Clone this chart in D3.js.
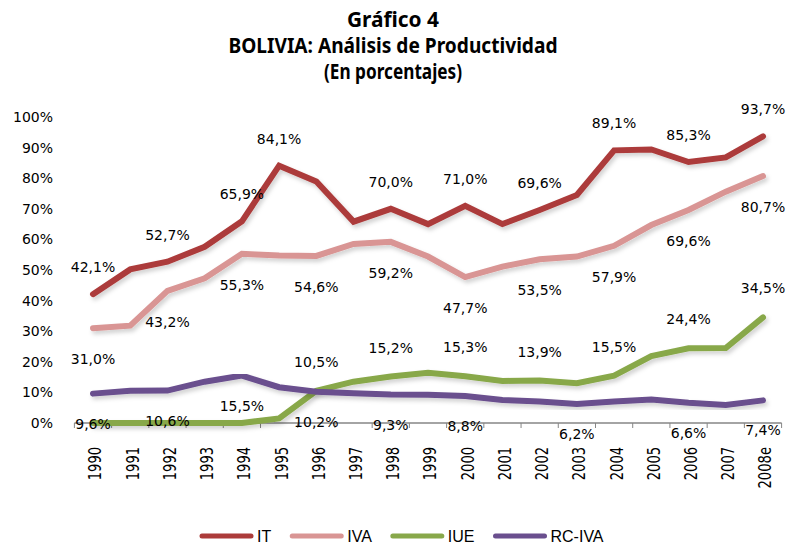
<!DOCTYPE html>
<html>
<head>
<meta charset="utf-8">
<script src="https://cdn.jsdelivr.net/npm/d3@7"></script>
<style>
  body { margin: 0; background: #fff; }
  text { fill: #000; }
</style>
</head>
<body>
<script>
// categories
var years = ['1990','1991','1992','1993','1994','1995','1996','1997','1998','1999',
             '2000','2001','2002','2003','2004','2005','2006','2007','2008e'];

// series values (%)
var it    = [42.1, 50.2, 52.7, 57.6, 65.9, 84.1, 78.9, 65.8, 70.0, 65.0, 71.0, 65.0, 69.6, 74.5, 89.1, 89.4, 85.3, 86.8, 93.7];
var iva   = [31.0, 31.8, 43.2, 47.3, 55.3, 54.7, 54.6, 58.5, 59.2, 54.4, 47.7, 51.1, 53.5, 54.4, 57.9, 64.7, 69.6, 75.6, 80.7];
var iue   = [0.0, 0.0, 0.0, 0.0, 0.0, 1.5, 10.5, 13.5, 15.2, 16.4, 15.3, 13.7, 13.9, 13.0, 15.5, 21.9, 24.4, 24.5, 34.5];
var rciva = [9.6, 10.5, 10.6, 13.5, 15.5, 11.7, 10.2, 9.7, 9.3, 9.2, 8.8, 7.5, 7.0, 6.2, 7.0, 7.7, 6.6, 5.9, 7.4];

// years that carry a data label, per series
var itLabels    = ['1990','1992','1994','1995','1998','2000','2002','2004','2006','2008e'];
var ivaLabels   = ['1990','1992','1994','1996','1998','2000','2002','2004','2006','2008e'];
var iueLabels   = ['1996','1998','2000','2002','2004','2006','2008e'];
var rcivaLabels = ['1990','1992','1994','1996','1998','2000','2003','2006','2008e'];

// y ticks
var yTicks = [0, 10, 20, 30, 40, 50, 60, 70, 80, 90, 100];

var titleLines = ['Gráfico 4', 'BOLIVIA: Análisis de Productividad', '(En porcentajes)'];

var series = [
  {name: 'IT',     values: it,    labels: itLabels,    color: '#ac3b3a', dy: -27},
  {name: 'IVA',    values: iva,   labels: ivaLabels,   color: '#d99594', dy: 31},
  {name: 'IUE',    values: iue,   labels: iueLabels,   color: '#88a84a', dy: -29},
  {name: 'RC-IVA', values: rciva, labels: rcivaLabels, color: '#6a4f8e', dy: 30}
];

var width = 787, height = 546;

var svg = d3.select("body").append("svg")
  .attr("width", width)
  .attr("height", height);

// shadow like the spreadsheet line effect
var defs = svg.append("defs");
defs.append("filter")
  .attr("id", "shadow")
  .attr("x", "-5%").attr("y", "-5%").attr("width", "110%").attr("height", "120%")
  .append("feDropShadow")
  .attr("dx", 2).attr("dy", 3)
  .attr("stdDeviation", 2)
  .attr("flood-color", "#000")
  .attr("flood-opacity", 0.18);

// scales
var x = d3.scaleBand()
  .domain(years)
  .range([74.4, 781.6])
  .padding(0);

var y = d3.scaleLinear()
  .domain([0, 100])
  .range([423, 117]);

function cx(d) { return x(d) + x.bandwidth() / 2; }

// title
svg.append("g").selectAll("text")
  .data(titleLines)
  .enter()
  .append("text")
  .attr("x", 393)
  .attr("y", function(d, i) { return 27 + i * 26; })
  .attr("text-anchor", "middle")
  .attr("textLength", function(d, i) { return [92, 329, 138][i]; })
  .attr("lengthAdjust", "spacingAndGlyphs")
  .style("font-family", "'Noto Sans', 'Open Sans', sans-serif")
  .style("font-weight", "bold")
  .style("font-size", "21px")
  .text(function(d) { return d; });

// y axis labels (no axis line)
svg.append("g").selectAll("text")
  .data(yTicks)
  .enter()
  .append("text")
  .attr("x", 53)
  .attr("y", function(d) { return y(d); })
  .attr("dy", "0.36em")
  .attr("text-anchor", "end")
  .style("font-family", "'DejaVu Sans', Verdana, sans-serif")
  .style("font-size", "14px")
  .text(function(d) { return d + "%"; });

// x axis line and ticks between categories
var xAxis = svg.append("g");
xAxis.append("line")
  .attr("x1", x.range()[0]).attr("x2", x.range()[1])
  .attr("y1", y(0)).attr("y2", y(0))
  .style("stroke", "#868686")
  .style("stroke-width", 1.5);

xAxis.selectAll(".tick")
  .data(years.concat(["end"]))
  .enter()
  .append("line")
  .attr("class", "tick")
  .attr("x1", function(d) { return d == "end" ? x.range()[1] : x(d); })
  .attr("x2", function(d) { return d == "end" ? x.range()[1] : x(d); })
  .attr("y1", y(0))
  .attr("y2", y(0) + 5)
  .style("stroke", "#868686")
  .style("stroke-width", 1);

xAxis.selectAll(".ylab")
  .data(years)
  .enter()
  .append("text")
  .attr("class", "ylab")
  .attr("transform", function(d) { return "translate(" + (cx(d) + 2) + ",447) rotate(-90)"; })
  .attr("dy", "0.36em")
  .attr("text-anchor", "end")
  .attr("textLength", function(d) { return d.length * 8.3; })
  .attr("lengthAdjust", "spacingAndGlyphs")
  .style("font-family", "'DejaVu Sans', Verdana, sans-serif")
  .style("font-size", "18px")
  .text(function(d) { return d; });

// lines
var line = d3.line()
  .x(function(d, i) { return cx(years[i]); })
  .y(function(d) { return y(d); });

svg.append("g").selectAll("path")
  .data(series)
  .enter()
  .append("path")
  .attr("d", function(s) { return line(s.values); })
  .attr("filter", "url(#shadow)")
  .style("fill", "none")
  .style("stroke", function(s) { return s.color; })
  .style("stroke-width", 6)
  .style("stroke-linecap", "round")
  .style("stroke-linejoin", "miter");

// data labels
var fmt = function(v) { return v.toFixed(1).replace(".", ",") + "%"; };

series.forEach(function(s) {
  svg.append("g").selectAll("text")
    .data(s.labels)
    .enter()
    .append("text")
    .attr("x", function(d) { return cx(d); })
    .attr("y", function(d) { return y(s.values[years.indexOf(d)]) + s.dy; })
    .attr("dy", "0.36em")
    .attr("text-anchor", "middle")
    .style("font-family", "'DejaVu Sans', Verdana, sans-serif")
    .style("font-size", "14px")
    .text(function(d) { return fmt(s.values[years.indexOf(d)]); });
});

// legend
var legend = svg.append("g");
var lx = 200;
series.forEach(function(s) {
  legend.append("line")
    .attr("x1", lx + 2).attr("x2", lx + 51)
    .attr("y1", 536).attr("y2", 536)
    .style("stroke", s.color)
    .style("stroke-width", 5)
    .style("stroke-linecap", "round");
  var t = legend.append("text")
    .attr("x", lx + 57)
    .attr("y", 536)
    .attr("dy", "0.35em")
    .style("font-family", "'Liberation Sans Narrow', 'Liberation Sans', sans-serif")
    .style("font-size", "16px")
    .text(s.name);
  lx = lx + 57 + t.node().getComputedTextLength() + 19;
});
</script>
</body>
</html>
